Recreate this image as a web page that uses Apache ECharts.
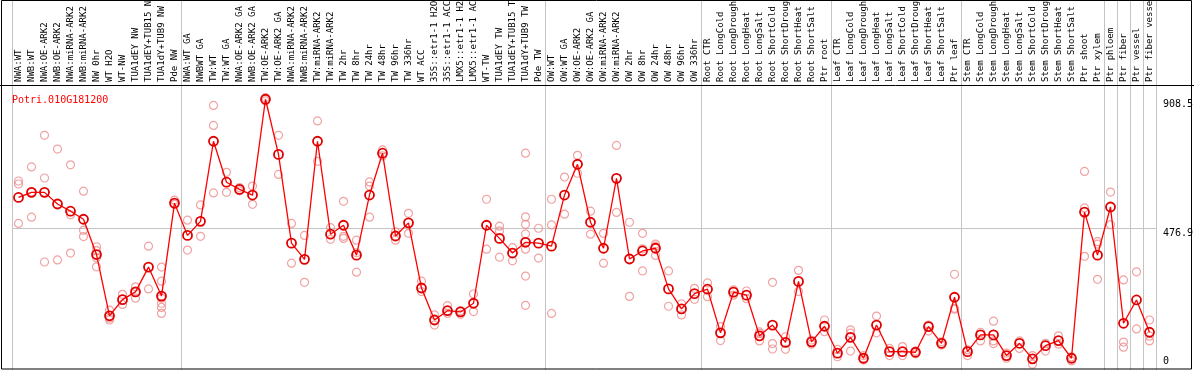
<!DOCTYPE html>
<html>
<head>
<meta charset="utf-8">
<script src="https://cdn.jsdelivr.net/npm/echarts@6/dist/echarts.min.js"></script>
<style>
html,body{margin:0;padding:0;background:#fff;}
#chart{width:1194px;height:370px;}
</style>
</head>
<body>
<div id="chart"></div>
<script>
var geneName = 'Potri.010G181200';

var categories = [
 'NWA:WT','NWB:WT','NWA:OE-ARK2','NWB:OE-ARK2','NWA:miRNA-ARK2','NWB:miRNA-ARK2','NW 0hr','WT H2O','WT-NW','TUA1dEY NW','TUA1dEY+TUB15 NW','TUA1dY+TUB9 NW','Pde NW',
 'NWA:WT GA','NWBWT GA','TW:WT','TW:WT GA','NWA:OE-ARK2 GA','NWB:OE-ARK2 GA','TW:OE-ARK2','TW:OE-ARK2 GA','NWA:miRNA-ARK2','NWB:miRNA-ARK2','TW:miRNA-ARK2','TW:miRNA-ARK2',
 'TW 2hr','TW 8hr','TW 24hr','TW 48hr','TW 96hr','TW 336hr','WT ACC','35S::etr1-1 H2O','35S::etr1-1 ACC','LMX5::etr1-1 H2O','LMX5::etr1-1 ACC','WT-TW','TUA1dEY TW','TUA1dEY+TUB15 TW','TUA1dY+TUB9 TW','Pde TW',
 'OW:WT','OW:WT GA','OW:OE-ARK2','OW:OE-ARK2 GA','OW:miRNA-ARK2','OW:miRNA-ARK2','OW 2hr','OW 8hr','OW 24hr','OW 48hr','OW 96hr','OW 336hr',
 'Root CTR','Root LongCold','Root LongDrought','Root LongHeat','Root LongSalt','Root ShortCold','Root ShortDrought','Root ShortHeat','Root ShortSalt','Ptr root',
 'Leaf CTR','Leaf LongCold','Leaf LongDrought','Leaf LongHeat','Leaf LongSalt','Leaf ShortCold','Leaf ShortDrought','Leaf ShortHeat','Leaf ShortSalt','Ptr leaf',
 'Stem CTR','Stem LongCold','Stem LongDrought','Stem LongHeat','Stem LongSalt','Stem ShortCold','Stem ShortDrought','Stem ShortHeat','Stem ShortSalt','Ptr shoot','Ptr xylem',
 'Ptr phloem','Ptr fiber','Ptr vessel','Ptr fiber vessel'
];

var meanValues = [
 580,597,597,558,534,507,389,184,238,264,347,250,561,
 453,500,768,631,607,588,908.5,724,427,373,768,457,487,387,588,728,451,495,277,170,201,197,226,487,443,394,430,427,
 417,588,691,497,410,644,374,401,410,274,207,258,
 273,127,263,253,117,153,95,299,97,149,
 59,112,42,153,64,64,62,148,92,246,
 64,120,120,51,92,40,84,101,42,531,387,
 548,159,237,129
];

var replicateValues = [
 [635,625,493],[682,598,514],[788,645,364],[742,371],[689,522,394],[601,470,449],[415,402,378,348],[203,176,170],[256,222],[281,263,243],[417,274],[347,300,243,226,212,192],[571,557],
 [504,404],[555,450],[888,821,595],[664,597],[613,602],[618,557],[914,903],[788,657],[493,360],[453,296],[836,701],[479,440],[567,450,443],[437,395,330],[632,618,514],[739,719],[465,437],[527,460],[300,265],[187,153],[218,192],[201,189],[257,198],[574,407],[484,468,380],[412,368],[728,515,490,458,407,317,219],[477,377],
 [574,488,192],[648,524],[721,661],[534,457],[460,360],[754,530],[497,249],[460,408,334],[424,417,386],[334,216],[224,187],[276,239],
 [294,248],[148,101],[271,253],[267,241],[130,125,100],[296,91,73],[114,72],[336,265],[103,89],[170,131],
 [72,47],[137,126,66],[51,36],[183,127],[75,51],[81,51],[66,57],[153,133],[97,86],[323,209,206],
 [70,51],[129,100],[166,100,91],[59,42],[100,75],[51,22],[92,66],[117,89],[47,33],[667,545,383],[432,424,306],
 [598,489],[304,96,79],[331,140],[170,116,100]
];

var groupStarts = [0,13,41,53,63,73,84,85,86,87,88];
var yTickLabels = [476.9, 908.5];
var yZeroLabel = [0];
var yGridValues = [476.9];

var repData = [];
replicateValues.forEach(function (arr, i) {
  arr.forEach(function (v) { repData.push([i, v]); });
});

var mono = 'DejaVu Sans Mono';
var chart = echarts.init(document.getElementById('chart'), null, {renderer: 'canvas'});
chart.setOption({
  animation: false,
  backgroundColor: '#ffffff',
  title: {
    text: geneName, left: 7, top: 90,
    textStyle: {color: '#ff0000', fontSize: 10, fontWeight: 'normal', fontFamily: mono}
  },
  grid: {left: 12, top: 0, width: 1144, height: 370.8, containLabel: false, outerBoundsMode: 'none'},
  xAxis: {
    type: 'category', data: categories, position: 'top', offset: -85,
    boundaryGap: true,
    axisLine: {show: false}, axisTick: {show: false},
    axisLabel: {rotate: 90, interval: 0, margin: 3, fontSize: 9, fontFamily: mono, color: '#000'},
    splitLine: {
      show: true,
      interval: function (index) { return groupStarts.indexOf(index) >= 0; },
      lineStyle: {color: '#c4c4c4', width: 1}
    }
  },
  yAxis: [{
    type: 'value', position: 'right', min: 0, max: 1240.6,
    axisLine: {show: false},
    axisTick: {show: false, customValues: yGridValues},
    splitLine: {show: true, lineStyle: {color: '#c4c4c4', width: 1}},
    axisLabel: {customValues: yTickLabels, verticalAlign: 'top', margin: 7, fontSize: 10, fontFamily: mono, color: '#000'}
  }, {
    type: 'value', position: 'right', min: 0, max: 1240.6,
    axisLine: {show: false}, axisTick: {show: false}, splitLine: {show: false},
    axisLabel: {customValues: yZeroLabel, verticalAlign: 'bottom', padding: [0, 0, 4, 0], margin: 7, fontSize: 10, fontFamily: mono, color: '#000'}
  }],
  series: [{
    type: 'scatter', data: repData, symbol: 'circle', symbolSize: 8,
    itemStyle: {color: 'rgba(0,0,0,0)', borderColor: '#ec8c8c', borderWidth: 1.2},
    z: 2
  }, {
    type: 'line', data: meanValues, symbol: 'circle', symbolSize: 9,
    lineStyle: {color: '#ff0000', width: 1.3},
    itemStyle: {color: 'rgba(0,0,0,0)', borderColor: '#e00000', borderWidth: 1.8},
    z: 3
  }],
  graphic: [{
    type: 'rect', shape: {x: 1.5, y: 0.5, width: 1190, height: 368.5},
    style: {fill: null, stroke: '#000', lineWidth: 1}, z: 10
  }, {
    type: 'line', shape: {x1: 0, y1: 85.5, x2: 1194, y2: 85.5},
    style: {stroke: '#000', lineWidth: 1}, z: 10
  }]
});
</script>
</body>
</html>
